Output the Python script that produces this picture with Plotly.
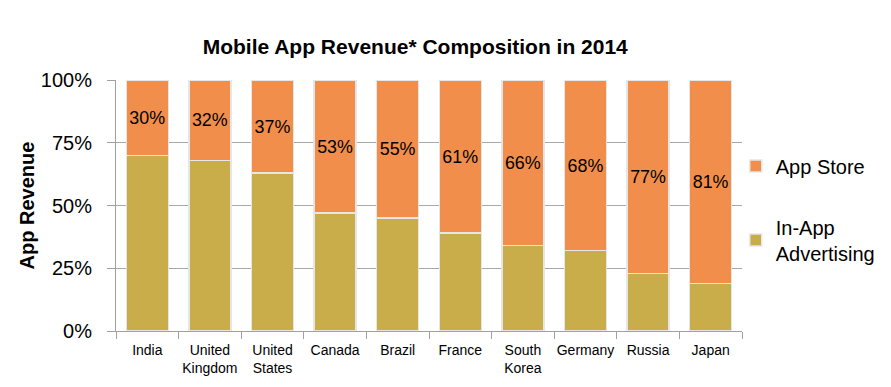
import plotly.graph_objects as go

categories = ["India", "United<br>Kingdom", "United<br>States", "Canada", "Brazil",
              "France", "South<br>Korea", "Germany", "Russia", "Japan"]
app_store = [30, 32, 37, 53, 55, 61, 66, 68, 77, 81]
in_app = [70, 68, 63, 47, 45, 39, 34, 32, 23, 19]
app_store_labels = [f"{v}%" for v in app_store]
y_ticks = [0, 25, 50, 75, 100]
y_tick_labels = ["0%", "25%", "50%", "75%", "100%"]

FONT = "Liberation Sans, Arial, sans-serif"
ORANGE = "#F28E4B"
OLIVE = "#C9AD4B"

fig = go.Figure()
fig.add_trace(go.Bar(
    x=categories, y=in_app, name="In-App<br>Advertising",
    marker=dict(color=OLIVE, line=dict(color="#e6e6e6", width=1.5)),
    legendgroup="b", legendrank=2, hoverinfo="skip",
))
fig.add_trace(go.Bar(
    x=categories, y=app_store, name="App Store",
    marker=dict(color=ORANGE, line=dict(color="#e6e6e6", width=1.5)),
    text=app_store_labels, textposition="inside", insidetextanchor="middle",
    textfont=dict(family=FONT, size=20, color="black"), textangle=0,
    legendgroup="a", legendrank=1, hoverinfo="skip",
))

fig.update_layout(
    barmode="stack",
    bargap=0.33,
    width=891, height=387,
    margin=dict(l=108, r=157, t=72, b=64, autoexpand=False),
    paper_bgcolor="white", plot_bgcolor="white",
    font=dict(family=FONT, color="black"),
    title=dict(text="<b>Mobile App Revenue* Composition in 2014</b>",
               font=dict(family=FONT, size=21, color="black"),
               x=0.478, xref="paper", xanchor="center",
               y=1 - 39 / 387, yref="container", yanchor="middle"),
    uniformtext=dict(minsize=10, mode="show"),
    legend=dict(x=0.99, xanchor="left", y=0.735, yanchor="top",
                traceorder="grouped", tracegroupgap=32,
                font=dict(family=FONT, size=20, color="black"),
                bgcolor="rgba(0,0,0,0)"),
    showlegend=True,
)
fig.update_xaxes(
    showline=True, linecolor="#a0a0a0", linewidth=1,
    ticks="outside", ticklen=7, tickcolor="#a0a0a0", tickson="boundaries",
    tickangle=0, ticklabelstandoff=6,
    tickfont=dict(family=FONT, size=14, color="black"),
    showgrid=False, fixedrange=True,
)
fig.update_yaxes(
    range=[0, 100], tickvals=y_ticks, ticktext=y_tick_labels,
    showline=True, linecolor="#a0a0a0", linewidth=1,
    ticks="outside", ticklen=8, tickcolor="#a0a0a0",
    showgrid=True, gridcolor="#a8a8a8", gridwidth=1,
    tickfont=dict(family=FONT, size=20, color="black"),
    ticklabelstandoff=11,
    title=dict(text="<b>App Revenue</b>", font=dict(family=FONT, size=20, color="black"),
               standoff=0),
    zeroline=False, fixedrange=True,
)

fig.write_html("out.html")
